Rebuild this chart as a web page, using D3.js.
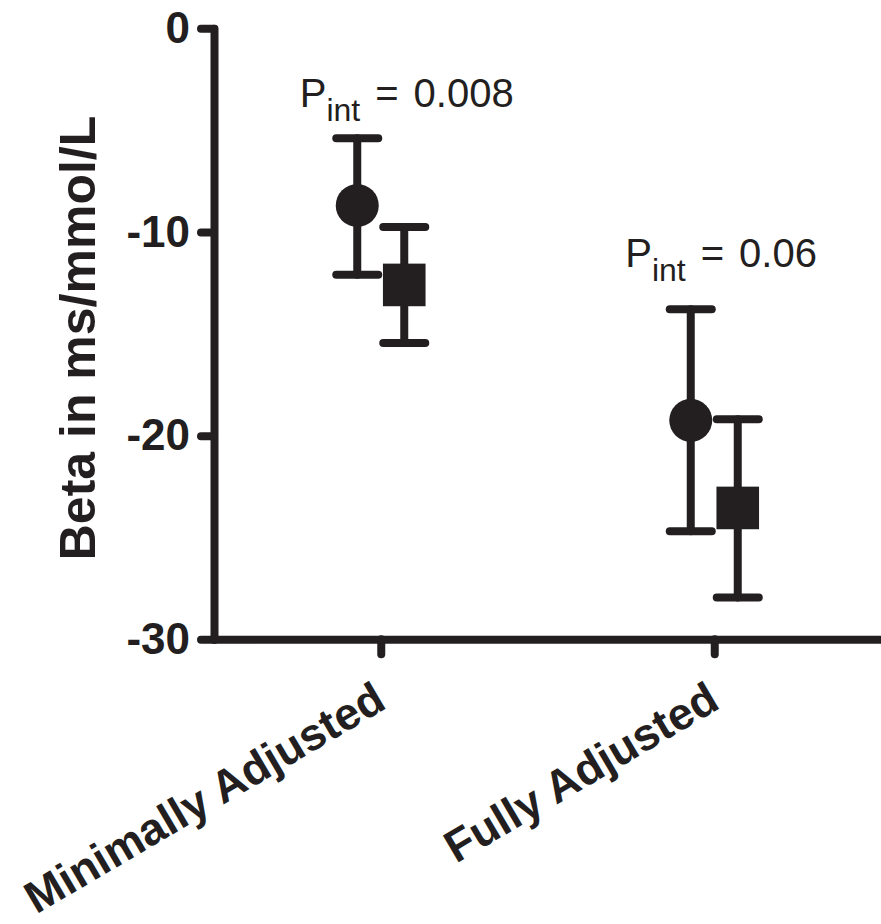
<!DOCTYPE html>
<html>
<head>
<meta charset="utf-8">
<script src="https://cdn.jsdelivr.net/npm/d3@7"></script>
<style>
  body { margin: 0; background: #fff; }
  svg { display: block; font-family: "Liberation Sans", Arial, sans-serif; }
</style>
</head>
<body>
<div id="chart"></div>
<script>
// values (beta, lower and upper limits)
var categories = ["Minimally Adjusted", "Fully Adjusted"];
var circleBeta = [-8.7, -19.25];
var circleLow  = [-12.1, -24.7];
var circleHigh = [-5.4, -13.8];
var squareBeta = [-12.6, -23.55];
var squareLow  = [-15.45, -27.95];
var squareHigh = [-9.75, -19.2];
var yTicks = [0, -10, -20, -30];
var pValues = ["0.008", "0.06"];

var ink = "#231f20";
var width = 881, height = 924;

var svg = d3.select("#chart")
  .append("svg")
  .attr("width", width)
  .attr("height", height);

var x = d3.scalePoint()
  .domain(categories)
  .range([214, 881])
  .padding(0.5);

var y = d3.scaleLinear()
  .domain([0, -30])
  .range([28.3, 639.3]);

// y axis
var yAxis = svg.append("g")
  .attr("transform", "translate(214,0)")
  .call(d3.axisLeft(y).tickValues(yTicks).tickSize(13).tickSizeOuter(0).tickPadding(11)
    .tickFormat(d3.format("d")));

yAxis.selectAll("path, line")
  .attr("stroke", ink)
  .attr("stroke-width", 8)
  .attr("stroke-linecap", "round");
yAxis.selectAll("text")
  .attr("fill", ink)
  .style("font-size", "44px")
  .style("font-weight", "bold")
  .text(function(d) { return d === 0 ? "0" : "-" + Math.abs(d); });

// x axis
var xAxis = svg.append("g")
  .attr("transform", "translate(0,639.3)")
  .call(d3.axisBottom(x).tickSize(15).tickSizeOuter(0));

xAxis.selectAll("path, line")
  .attr("stroke", ink)
  .attr("stroke-width", 8)
  .attr("stroke-linecap", "round");
xAxis.selectAll("text")
  .attr("x", 0).attr("y", 0).attr("dy", null)
  .attr("fill", ink)
  .style("font-size", "45px")
  .style("font-weight", "bold")
  .attr("text-anchor", "end")
  .attr("transform", "translate(7,68) rotate(-30.5)");

// axis title
svg.append("text")
  .attr("transform", "translate(95,338) rotate(-90)")
  .attr("text-anchor", "middle")
  .attr("fill", ink)
  .style("font-size", "50px")
  .style("font-weight", "bold")
  .text("Beta in ms/mmol/L");

var off = 23.5, cap = 21;

function errorBars(cls, dx, beta, low, high) {
  var g = svg.selectAll("." + cls)
    .data(categories)
    .enter().append("g")
    .attr("class", cls)
    .attr("stroke", ink)
    .attr("stroke-width", 8)
    .attr("stroke-linecap", "round");
  g.append("line")
    .attr("x1", function(d) { return x(d) + dx; })
    .attr("x2", function(d) { return x(d) + dx; })
    .attr("y1", function(d, i) { return y(low[i]); })
    .attr("y2", function(d, i) { return y(high[i]); });
  [low, high].forEach(function(arr) {
    g.append("line")
      .attr("x1", function(d) { return x(d) + dx - cap; })
      .attr("x2", function(d) { return x(d) + dx + cap; })
      .attr("y1", function(d, i) { return y(arr[i]); })
      .attr("y2", function(d, i) { return y(arr[i]); });
  });
}

errorBars("ebc", -off, circleBeta, circleLow, circleHigh);
errorBars("ebs", off, squareBeta, squareLow, squareHigh);

svg.selectAll(".circ")
  .data(categories)
  .enter().append("circle")
  .attr("class", "circ")
  .attr("cx", function(d) { return x(d) - off; })
  .attr("cy", function(d, i) { return y(circleBeta[i]); })
  .attr("r", 21.5)
  .attr("fill", ink);

svg.selectAll(".sq")
  .data(categories)
  .enter().append("rect")
  .attr("class", "sq")
  .attr("x", function(d) { return x(d) + off - 21.3; })
  .attr("y", function(d, i) { return y(squareBeta[i]) - 21.3; })
  .attr("width", 42.6)
  .attr("height", 42.6)
  .attr("fill", ink);

// interaction p-values
var pPos = [{dx: -81, v: -3.85}, {dx: -89, v: -11.7}];
var pt = svg.selectAll(".pint")
  .data(categories)
  .enter().append("text")
  .attr("class", "pint")
  .attr("x", function(d, i) { return x(d) + pPos[i].dx; })
  .attr("y", function(d, i) { return y(pPos[i].v); })
  .attr("fill", ink)
  .style("font-size", "40px");
pt.append("tspan").text("P");
pt.append("tspan").attr("dy", 14).style("font-size", "32px").text("int");
pt.append("tspan").attr("dy", -14).attr("dx", 15).text("=");
pt.append("tspan").attr("dx", 15).text(function(d, i) { return pValues[i]; });
</script>
</body>
</html>
